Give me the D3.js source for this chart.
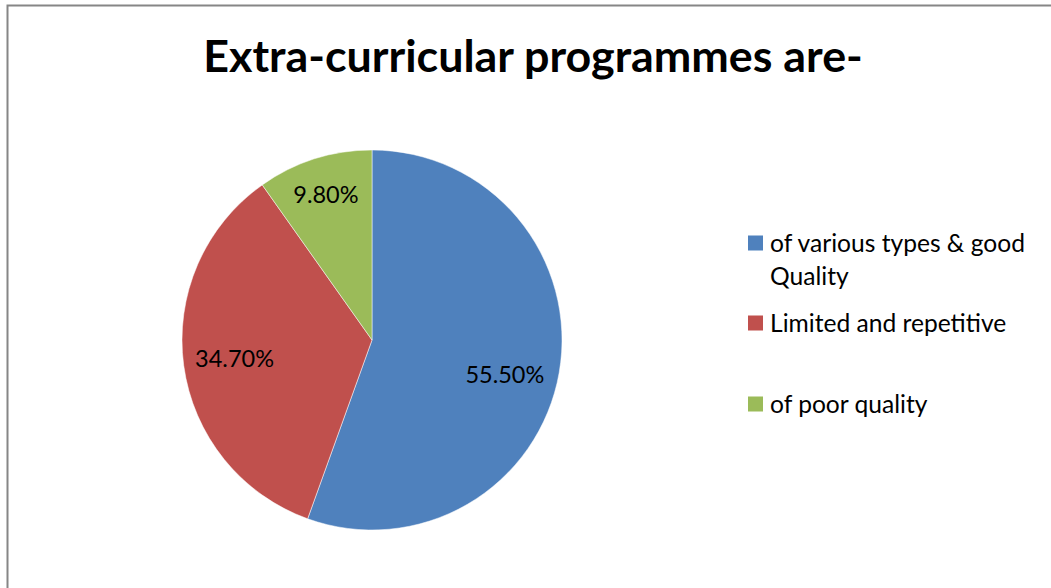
<!DOCTYPE html>
<html><head><meta charset="utf-8">
<script src="https://cdn.jsdelivr.net/npm/d3@7"></script>
<style>html,body{margin:0;padding:0;background:#fff;}svg{display:block;}</style>
</head><body>
<svg id="chart" width="1051" height="588"></svg>
<script>
const title = "Extra-curricular programmes are-";
const categories = ["of various types & good Quality", "Limited and repetitive", "of poor quality"];
const legendLines = [["of various types & good", "Quality"], ["Limited and repetitive"], ["of poor quality"]];
const values = [55.5, 34.7, 9.8];
const labels = ["55.50%", "34.70%", "9.80%"];
const colors = ["#4f81bd", "#c0504d", "#9bbb59"];

const svg = d3.select("#chart");
const font = "Lato, 'Open Sans', sans-serif";

svg.append("rect").attr("x", 7.5).attr("y", 5.5).attr("width", 1060).attr("height", 600)
  .attr("fill", "#fff").attr("stroke", "#868686").attr("stroke-width", 2);

svg.append("text").attr("x", 533).attr("y", 72).attr("text-anchor", "middle")
  .attr("font-family", font).attr("font-weight", "bold").attr("font-size", 44.8)
  .attr("fill", "#000").text(title);

const cx = 372, cy = 340, r = 190;
const pie = d3.pie().sort(null).value(d => d)(values);
const arc = d3.arc().innerRadius(0).outerRadius(r);
const g = svg.append("g").attr("transform", `translate(${cx},${cy})`);
g.selectAll("path").data(pie).join("path")
  .attr("d", arc).attr("fill", (d, i) => colors[i]).attr("stroke", "#fff").attr("stroke-width", 0.5);

const labFactor = [0.71, 0.73, 0.8];
g.selectAll("text.lab").data(pie).join("text").attr("class", "lab")
  .attr("transform", (d, i) => {
    const a = (d.startAngle + d.endAngle) / 2;
    const rr = r * labFactor[i];
    return `translate(${Math.sin(a) * rr},${-Math.cos(a) * rr + (i === 0 ? 12 : 0)})`;
  })
  .attr("text-anchor", "middle").attr("dy", "0.35em")
  .attr("font-family", font).attr("font-size", 23.5).attr("fill", "#000")
  .text((d, i) => labels[i]);

const legY = [243, 323, 404];
const lg = svg.append("g");
categories.forEach((c, i) => {
  lg.append("rect").attr("x", 748).attr("y", legY[i] - 7.5).attr("width", 15).attr("height", 15).attr("fill", colors[i]);
  const t = lg.append("text").attr("x", 770).attr("y", legY[i] + 8.5)
    .attr("font-family", font).attr("font-size", 24.6).attr("fill", "#000");
  legendLines[i].forEach((ln, j) => {
    t.append("tspan").attr("x", 770).attr("dy", j === 0 ? 0 : 33).text(ln);
  });
});
</script>
</body></html>
